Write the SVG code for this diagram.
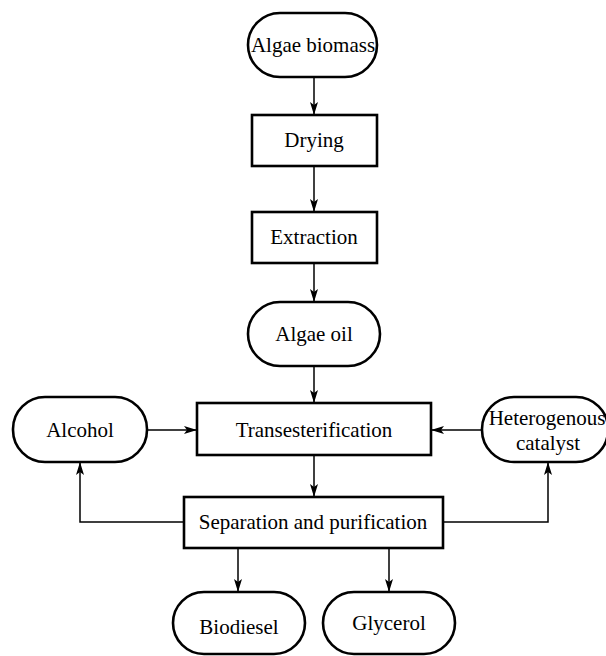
<svg xmlns="http://www.w3.org/2000/svg" width="606" height="656" viewBox="0 0 606 656">
<style>
.box{fill:#fff;stroke:#000;stroke-width:2.6}
.t{font-family:"Liberation Serif","Times New Roman",serif;font-size:21px;fill:#000;text-anchor:middle}
.c{fill:none;stroke:#000;stroke-width:1.5}
</style>
<defs>
<marker id="ah" markerUnits="userSpaceOnUse" markerWidth="14" markerHeight="10" refX="13" refY="4" orient="auto">
<path d="M0,0 L13,4 L0,8 L3,4 Z" fill="#000"/>
</marker>
</defs>
<rect width="606" height="656" fill="#fff"/>
<g id="connectors">
<line class="c" x1="314" y1="77" x2="314" y2="115" marker-end="url(#ah)"/>
<line class="c" x1="314" y1="166" x2="314" y2="212" marker-end="url(#ah)"/>
<line class="c" x1="314" y1="263" x2="314" y2="302" marker-end="url(#ah)"/>
<line class="c" x1="314" y1="366" x2="314" y2="403" marker-end="url(#ah)"/>
<line class="c" x1="147" y1="430" x2="197" y2="430" marker-end="url(#ah)"/>
<line class="c" x1="482" y1="430" x2="431" y2="430" marker-end="url(#ah)"/>
<line class="c" x1="314" y1="455" x2="314" y2="497" marker-end="url(#ah)"/>
<polyline class="c" points="184,522 80,522 80,462" marker-end="url(#ah)"/>
<polyline class="c" points="443,522 548,522 548,462" marker-end="url(#ah)"/>
<line class="c" x1="238" y1="548" x2="238" y2="592" marker-end="url(#ah)"/>
<line class="c" x1="389" y1="548" x2="389" y2="592" marker-end="url(#ah)"/>
</g>
<g id="algae-biomass">
<rect class="box" x="248" y="13" width="129" height="64" rx="32" ry="32"/>
<text class="t" x="313" y="52">Algae biomass</text>
</g>
<g id="drying">
<rect class="box" x="252" y="115" width="125" height="51"/>
<text class="t" x="314" y="147">Drying</text>
</g>
<g id="extraction">
<rect class="box" x="252" y="212" width="125" height="51"/>
<text class="t" x="314" y="244">Extraction</text>
</g>
<g id="algae-oil">
<rect class="box" x="248" y="302" width="132" height="64" rx="32" ry="32"/>
<text class="t" x="314" y="341">Algae oil</text>
</g>
<g id="transesterification">
<rect class="box" x="197" y="403" width="234" height="52"/>
<text class="t" x="314" y="437">Transesterification</text>
</g>
<g id="alcohol">
<rect class="box" x="13" y="397" width="134" height="65" rx="32" ry="32"/>
<text class="t" x="80" y="437">Alcohol</text>
</g>
<g id="heterogenous-catalyst">
<rect class="box" x="482" y="397" width="126" height="65" rx="32" ry="32"/>
<text class="t" x="547" y="425">Heterogenous</text>
<text class="t" x="548" y="450">catalyst</text>
</g>
<g id="separation">
<rect class="box" x="184" y="497" width="259" height="51"/>
<text class="t" x="313" y="529">Separation and purification</text>
</g>
<g id="biodiesel">
<rect class="box" x="173" y="592" width="132" height="62" rx="31" ry="31"/>
<text class="t" x="239" y="634">Biodiesel</text>
</g>
<g id="glycerol">
<rect class="box" x="323" y="592" width="132" height="62" rx="31" ry="31"/>
<text class="t" x="389" y="630">Glycerol</text>
</g>
</svg>
